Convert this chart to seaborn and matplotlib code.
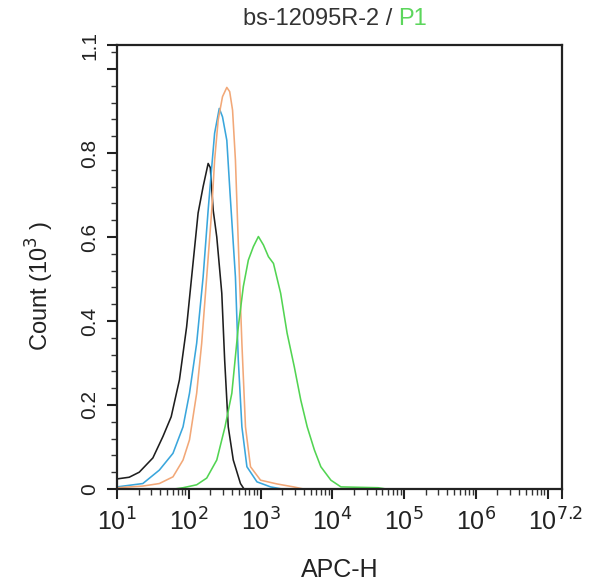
import numpy as np
import pandas as pd
import seaborn as sns
import matplotlib
matplotlib.use("Agg")
import matplotlib.pyplot as plt
from matplotlib.ticker import FixedLocator, NullFormatter
from matplotlib.transforms import ScaledTranslation

# ---- data (x given as log10 of APC-H, y as Count in 10^3) ----
black_log = [1.0, 1.17, 1.31, 1.50, 1.64, 1.755, 1.87, 1.97, 2.04, 2.13, 2.20, 2.27,
             2.30, 2.34, 2.39, 2.46, 2.50, 2.55, 2.62, 2.72, 2.77]
black_cnt = [0.024, 0.028, 0.040, 0.074, 0.125, 0.172, 0.26, 0.386, 0.505, 0.657, 0.72, 0.775,
             0.765, 0.664, 0.60, 0.466, 0.307, 0.148, 0.069, 0.013, 0.0]

blue_log = [1.0, 1.36, 1.59, 1.78, 1.92, 2.01, 2.11, 2.20, 2.27, 2.32, 2.36, 2.425,
            2.47, 2.53, 2.575, 2.65, 2.69, 2.74, 2.81, 2.95, 3.14, 3.3]
blue_cnt = [0.005, 0.013, 0.045, 0.085, 0.148, 0.228, 0.347, 0.505, 0.664, 0.767, 0.847, 0.906,
            0.886, 0.83, 0.704, 0.505, 0.307, 0.148, 0.053, 0.017, 0.005, 0.0]

orange_log = [1.0, 1.36, 1.59, 1.78, 1.92, 2.01, 2.11, 2.18, 2.25, 2.32, 2.36, 2.41,
              2.47, 2.53, 2.57, 2.61, 2.65, 2.69, 2.74, 2.79, 2.86, 3.0, 3.23, 3.46, 3.6]
orange_cnt = [0.003, 0.007, 0.013, 0.029, 0.069, 0.117, 0.228, 0.347, 0.505, 0.664, 0.783, 0.879,
              0.934, 0.956, 0.946, 0.902, 0.783, 0.585, 0.347, 0.148, 0.053, 0.021, 0.012, 0.005, 0.0]

green_log = [1.8, 1.92, 2.11, 2.25, 2.39, 2.505, 2.60, 2.69, 2.76, 2.83, 2.90, 2.97,
             3.04, 3.11, 3.18, 3.28, 3.37, 3.47, 3.56, 3.65, 3.75, 3.84, 3.98, 4.12, 4.64, 4.75]
green_cnt = [0.0, 0.003, 0.010, 0.026, 0.069, 0.148, 0.228, 0.386, 0.482, 0.545, 0.577, 0.601,
             0.581, 0.553, 0.537, 0.466, 0.371, 0.291, 0.212, 0.148, 0.093, 0.053, 0.021, 0.005, 0.003, 0.0]

series_names = ["black", "blue", "orange", "green"]
series_colors = {"black": "#1e1e1e", "blue": "#3aa6dc", "orange": "#f2a878", "green": "#52d452"}

x_major_exp = [1, 2, 3, 4, 5, 6, 7]
x_top_exp = 7.2
x_tick_labels = ["10$^{1}$", "10$^{2}$", "10$^{3}$", "10$^{4}$", "10$^{5}$", "10$^{6}$", "", "10$^{7.2}$"]
y_top = 1.057
y_major = [0, 0.2, 0.4, 0.6, 0.8, 1.0, y_top]
y_tick_labels = ["0", "0.2", "0.4", "0.6", "0.8", "", "1.1"]

title_main = "bs-12095R-2 / "
title_gate = "P1"
x_label = "APC-H"
y_label = "Count (10$^{3}$ )"

# ---- build frame ----
frames = []
for name, lg, ct in [("black", black_log, black_cnt), ("blue", blue_log, blue_cnt),
                     ("orange", orange_log, orange_cnt), ("green", green_log, green_cnt)]:
    frames.append(pd.DataFrame({"apc": np.power(10.0, lg), "count": ct, "sample": name}))
df = pd.concat(frames, ignore_index=True)

sns.set_theme(style="white")
plt.rcParams["font.family"] = ["Liberation Sans", "DejaVu Sans"]

fig = plt.figure(figsize=(5.89, 5.85), dpi=100)
ax = fig.add_axes([117 / 589, 1 - 489 / 585, (562 - 117) / 589, (489 - 45) / 585])

sns.lineplot(data=df, x="apc", y="count", hue="sample", palette=series_colors,
             hue_order=series_names, estimator=None, sort=False, units="sample",
             linewidth=1.15, legend=False, ax=ax)

ax.set_xscale("log")
ax.set_xlim(10 ** 1, 10 ** x_top_exp)
ax.set_ylim(0, y_top)

xt = [10.0 ** e for e in x_major_exp] + [10 ** x_top_exp]
ax.xaxis.set_major_locator(FixedLocator(xt))
ax.set_xticklabels(x_tick_labels)
minors = [m * 10.0 ** e for e in range(1, 7) for m in range(2, 10)]
ax.xaxis.set_minor_locator(FixedLocator(minors))
ax.xaxis.set_minor_formatter(NullFormatter())

ax.yaxis.set_major_locator(FixedLocator(y_major))
ax.set_yticklabels(y_tick_labels, rotation=90, va="center")
ax.yaxis.set_minor_locator(FixedLocator([round(0.04 * i, 2) for i in range(1, 27) if i % 5 != 0]))

for s in ax.spines.values():
    s.set_color("#222222")
    s.set_linewidth(1.6)

ax.tick_params(axis="both", which="major", direction="out", length=7, width=1.5,
               color="#222222", labelcolor="#222222")
ax.tick_params(axis="both", which="minor", direction="out", length=4, width=1.0,
               color="#333333")
ax.tick_params(axis="x", which="major", labelsize=18, pad=7)
ax.tick_params(axis="y", which="major", labelsize=15, pad=6)
ax.tick_params(left=True, bottom=True, which="both")

# nudge the last x label so it stays inside the picture
last = ax.get_xticklabels()[-1]
last.set_transform(last.get_transform() + ScaledTranslation(-6 / 100, 0, fig.dpi_scale_trans))

ax.set_xlabel(x_label, fontsize=18, color="#222222")
ax.xaxis.set_label_coords(0.5, -(570 - 489) / 444, transform=ax.transAxes)
ax.xaxis.label.set_va("center")
ax.set_ylabel(y_label, fontsize=17, color="#222222")
ax.yaxis.set_label_coords(-(117 - 40) / 445, (489 - 286) / 444, transform=ax.transAxes)
ax.yaxis.label.set_va("center")

# two-colour title
fig.canvas.draw()
r = fig.canvas.get_renderer()
t1 = fig.text(0, 0, title_main, fontsize=17, color="#333333")
t2 = fig.text(0, 0, title_gate, fontsize=17, color="#5cd65c")
w1 = t1.get_window_extent(r).width
w2 = t2.get_window_extent(r).width
cx = 335
start = cx - (w1 + w2) / 2
by = 585 - 25
t1.set_position((start / 589, by / 585))
t2.set_position(((start + w1) / 589, by / 585))

fig.savefig("out.png", dpi=100, facecolor="white")
